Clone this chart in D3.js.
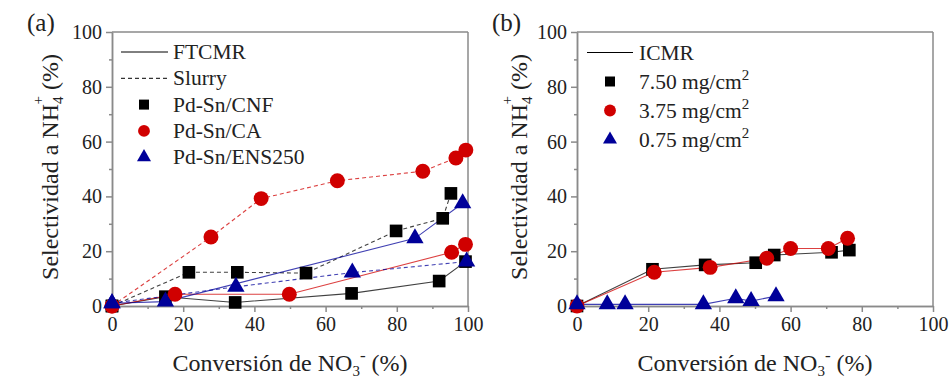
<!DOCTYPE html>
<html>
<head>
<meta charset="utf-8">
<title>Selectividad a NH4+</title>
<script src="https://d3js.org/d3.v7.min.js"></script>
<style>
  body { margin: 0; background: #fff; }
  text { font-family: "Liberation Serif", "Times New Roman", serif; }
</style>
</head>
<body>
<script>
// panel (a): FTCMR (solid) and Slurry (dashed) for three catalysts
const cnfFtX = [0, 15, 34.6, 67.3, 91.9, 99.3];
const cnfFtY = [0, 3.4, 1.3, 4.6, 9.1, 16.2];
const cnfSlX = [0, 21.6, 35.2, 54.5, 79.8, 92.9, 95.2];
const cnfSlY = [0, 12.3, 12.3, 12.0, 27.4, 32, 41.1];
const caFtX = [0, 17.7, 49.8, 95.4, 99.3];
const caFtY = [0, 4.3, 4.3, 19.6, 22.5];
const caSlX = [0, 27.8, 41.9, 63.3, 87.3, 96.6, 99.4];
const caSlY = [0, 25.2, 39.2, 45.7, 49.2, 54, 56.9];
const ensFtX = [0, 15, 85.1, 98.5];
const ensFtY = [1, 1.6, 24.7, 37.5];
const ensSlX = [0, 34.8, 67.5, 99.6];
const ensSlY = [1, 7, 12.2, 16.2];

// panel (b): ICMR with three loadings
const b750X = [0, 21.2, 36, 50.2, 55.4, 71.5, 76.5];
const b750Y = [0, 13.4, 15, 15.8, 18.6, 19.6, 20.4];
const b375X = [0, 21.7, 37.4, 53.3, 60, 70.6, 76];
const b375Y = [0, 12.3, 14.1, 17.4, 21, 21, 24.7];
const b075X = [0, 8.5, 13.5, 35.5, 44.6, 48.9, 55.9];
const b075Y = [0.6, 0.6, 0.6, 0.6, 2.8, 1.8, 3.6];

const majorTicks = [0, 20, 40, 60, 80, 100];
const minorTicks = [10, 30, 50, 70, 90];

const legendA = ["FTCMR", "Slurry", "Pd-Sn/CNF", "Pd-Sn/CA", "Pd-Sn/ENS250"];
const legendB = ["ICMR", "7.50 mg/cm", "3.75 mg/cm", "0.75 mg/cm"];

const width = 950, height = 379;
const black = "#000000", red = "#d00000", blue = "#000099";
const serif = "Liberation Serif, Times New Roman, serif";

const svg = d3.select("body").append("svg")
  .attr("width", width)
  .attr("height", height);

const y = d3.scaleLinear().domain([0, 100]).range([306, 32]);
const xa = d3.scaleLinear().domain([0, 100]).range([112, 468]);
const xb = d3.scaleLinear().domain([0, 100]).range([577, 933]);

const zip = (xs, ys) => xs.map((v, i) => [v, ys[i]]);

function frame(x, label, titleX) {
  const g = svg.append("g");
  // minor ticks
  g.append("g").attr("transform", `translate(0,${y(0)})`)
    .call(d3.axisBottom(x).tickValues(minorTicks).tickSize(3).tickSizeOuter(0).tickFormat(""));
  g.append("g").attr("transform", `translate(${x(0)},0)`)
    .call(d3.axisLeft(y).tickValues(minorTicks).tickSize(3).tickSizeOuter(0).tickFormat(""));
  // major ticks with labels
  g.append("g").attr("transform", `translate(0,${y(0)})`)
    .call(d3.axisBottom(x).tickValues(majorTicks).tickSize(6).tickSizeOuter(0).tickPadding(5));
  g.append("g").attr("transform", `translate(${x(0)},0)`)
    .call(d3.axisLeft(y).tickValues(majorTicks).tickSize(6).tickSizeOuter(0).tickPadding(4));
  g.selectAll(".domain, .tick line").attr("stroke", "#8a8a8a").attr("stroke-width", 1.5);
  g.selectAll(".tick text")
    .attr("font-family", serif)
    .attr("font-size", 20)
    .attr("fill", "#222");
  // top and right border
  g.append("line").attr("x1", x(0)).attr("x2", x(100)).attr("y1", y(100)).attr("y2", y(100))
    .attr("stroke", "#8a8a8a").attr("stroke-width", 1.5);
  g.append("line").attr("x1", x(100)).attr("x2", x(100)).attr("y1", y(100)).attr("y2", y(0))
    .attr("stroke", "#8a8a8a").attr("stroke-width", 1.5);

  // panel label
  svg.append("text").attr("x", x(0) - 85).attr("y", 31)
    .attr("font-family", serif)
    .attr("font-size", 25).attr("fill", "#222").text(label);

  // x title
  const xt = svg.append("text")
    .attr("x", (x(0) + x(100)) / 2).attr("y", 371)
    .attr("text-anchor", "middle")
    .attr("font-family", serif)
    .attr("font-size", 24).attr("fill", "#222");
  xt.append("tspan").text("Conversión de NO");
  xt.append("tspan").attr("font-size", 15).attr("dy", 5).text("3");
  xt.append("tspan").attr("font-size", 17).attr("dy", -15).text("-");
  xt.append("tspan").attr("dy", 10).text(" (%)");

  // y title
  const yt = svg.append("text")
    .attr("transform", `translate(${titleX},${(y(0) + y(100)) / 2 - 2}) rotate(-90)`)
    .attr("text-anchor", "middle")
    .attr("font-family", "Liberation Sans, Arial, sans-serif")
    .attr("font-size", 24).attr("fill", "#222");
  yt.append("tspan").text("Selectividad a NH");
  yt.append("tspan").attr("font-size", 15).attr("dy", 5).text("4");
  yt.append("tspan").attr("font-size", 15).attr("dx", -8).attr("dy", -20).text("+");
  yt.append("tspan").attr("dy", 15).text(" (%)");
}

function series(x, pts, color, dashed, shape) {
  const line = d3.line().x(d => x(d[0])).y(d => y(d[1]));
  svg.append("path").datum(pts)
    .attr("d", line)
    .attr("fill", "none")
    .attr("stroke", color)
    .attr("stroke-opacity", 0.75)
    .attr("stroke-width", 1.1)
    .attr("stroke-dasharray", dashed ? "4,3" : null);
  return { pts, color, shape };
}

function markers(x, s, size) {
  svg.append("g").selectAll("path")
    .data(s.pts)
    .enter().append("path")
    .attr("transform", d => `translate(${x(d[0])},${y(d[1])})`)
    .attr("d", d3.symbol().type(s.shape).size(size))
    .attr("fill", s.color);
}

const markerSize = s => s.shape === d3.symbolSquare ? 160 : s.shape === d3.symbolCircle ? 175 : 130;

frame(xa, "(a)", 58);
frame(xb, "(b)", 527);

// panel (a) lines
const aSeries = [
  series(xa, zip(cnfFtX, cnfFtY), black, false, d3.symbolSquare),
  series(xa, zip(cnfSlX, cnfSlY), black, true, d3.symbolSquare),
  series(xa, zip(caFtX, caFtY), red, false, d3.symbolCircle),
  series(xa, zip(caSlX, caSlY), red, true, d3.symbolCircle),
  series(xa, zip(ensFtX, ensFtY), blue, false, d3.symbolTriangle),
  series(xa, zip(ensSlX, ensSlY), blue, true, d3.symbolTriangle)
];
aSeries.forEach(s => markers(xa, s, markerSize(s)));

// panel (b) lines
const bSeries = [
  series(xb, zip(b750X, b750Y), black, false, d3.symbolSquare),
  series(xb, zip(b375X, b375Y), red, false, d3.symbolCircle),
  series(xb, zip(b075X, b075Y), blue, false, d3.symbolTriangle)
];
bSeries.forEach(s => markers(xb, s, markerSize(s)));

// legend (a)
const legA = svg.append("g");
const rowA = i => 52 + i * 26.3;
legA.append("line").attr("x1", 121).attr("x2", 168).attr("y1", rowA(0)).attr("y2", rowA(0))
  .attr("stroke", black).attr("stroke-width", 1);
legA.append("line").attr("x1", 121).attr("x2", 168).attr("y1", rowA(1)).attr("y2", rowA(1))
  .attr("stroke", black).attr("stroke-width", 1).attr("stroke-dasharray", "4,3");
[[d3.symbolSquare, black, 100], [d3.symbolCircle, red, 110], [d3.symbolTriangle, blue, 85]].forEach((m, i) => {
  legA.append("path")
    .attr("transform", `translate(144,${rowA(i + 2)})`)
    .attr("d", d3.symbol().type(m[0]).size(m[2]))
    .attr("fill", m[1]);
});
legA.selectAll("text").data(legendA).enter().append("text")
  .attr("x", 173).attr("y", (d, i) => rowA(i) + 7)
  .attr("font-family", serif)
  .attr("font-size", 21.5).attr("fill", "#222")
  .text(d => d);

// legend (b)
const legB = svg.append("g");
const rowB = i => 52.5 + i * 29;
legB.append("line").attr("x1", 587).attr("x2", 633).attr("y1", rowB(0)).attr("y2", rowB(0))
  .attr("stroke", black).attr("stroke-width", 1);
[[d3.symbolSquare, black, 100], [d3.symbolCircle, red, 110], [d3.symbolTriangle, blue, 85]].forEach((m, i) => {
  legB.append("path")
    .attr("transform", `translate(610,${rowB(i + 1)})`)
    .attr("d", d3.symbol().type(m[0]).size(m[2]))
    .attr("fill", m[1]);
});
legendB.forEach((d, i) => {
  const t = legB.append("text")
    .attr("x", 639).attr("y", rowB(i) + 7)
    .attr("font-family", serif)
    .attr("font-size", 21.5).attr("fill", "#222");
  t.append("tspan").text(d);
  if (i > 0) t.append("tspan").attr("font-size", 15).attr("dy", -9).text("2");
});
</script>
</body>
</html>
